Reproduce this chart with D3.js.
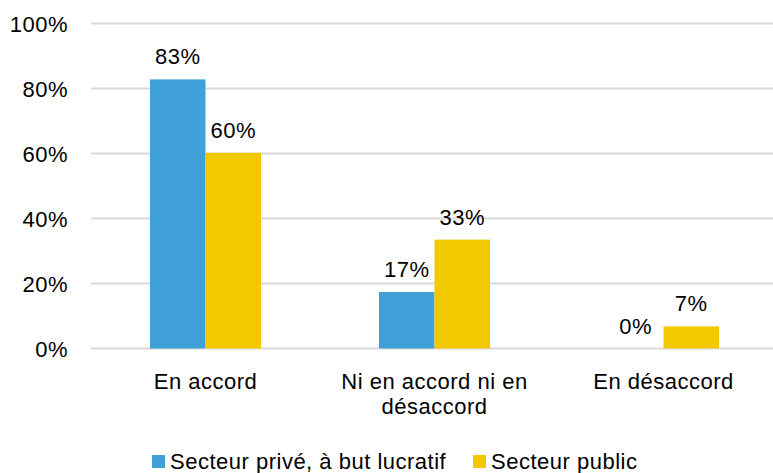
<!DOCTYPE html>
<html>
<head>
<meta charset="utf-8">
<script src="https://cdn.jsdelivr.net/npm/d3@7"></script>
<style>
  body { margin: 0; background: #fff; }
  svg text { font-family: "Liberation Sans", Arial, sans-serif; fill: #000; }
</style>
</head>
<body>
<div id="chart"></div>
<script>
// chart values
const categories = [['En accord'], ['Ni en accord ni en', 'désaccord'], ['En désaccord']];
const seriesNames = ['Secteur privé, à but lucratif', 'Secteur public'];
const prive = [82.8, 17.4, 0];
const publique = [60.2, 33.5, 6.8];
const valueLabels = [['83%', '17%', '0%'], ['60%', '33%', '7%']];
const yTicks = [0, 20, 40, 60, 80, 100];
const colors = ['#40A0D8', '#F2C900'];

const width = 773;
const height = 473;
const fontSize = 22;
const spacing = '0.5px';

const svg = d3.select('#chart')
    .append('svg')
    .attr('width', width)
    .attr('height', height);

const xScale = d3.scaleBand()
    .domain(d3.range(categories.length))
    .range([91, 778]);

const yScale = d3.scaleLinear()
    .domain([0, 100])
    .range([348.5, 23.5]);

const barW = 55.5;

// gridlines
svg.append('g')
    .selectAll('line')
    .data(yTicks)
    .enter()
    .append('line')
        .attr('x1', 91)
        .attr('x2', 778)
        .attr('y1', d => yScale(d))
        .attr('y2', d => yScale(d))
        .attr('stroke', '#d9d9d9')
        .attr('stroke-width', 2);

// y tick labels
svg.append('g')
    .selectAll('text')
    .data(yTicks)
    .enter()
    .append('text')
        .attr('x', 68)
        .attr('y', d => yScale(d) + 8)
        .attr('text-anchor', 'end')
        .style('font-size', fontSize + 'px')
        .style('letter-spacing', spacing)
        .text(d => d + '%');

// bars, one group per series
const series = [prive, publique];
series.forEach((vals, s) => {
    const xOff = s === 0 ? -barW : 0;
    svg.append('g')
        .selectAll('rect')
        .data(vals)
        .enter()
        .append('rect')
            .attr('x', (d, i) => xScale(i) + xScale.bandwidth() / 2 + xOff)
            .attr('y', d => yScale(d))
            .attr('width', barW)
            .attr('height', d => yScale(0) - yScale(d))
            .attr('fill', colors[s]);

    svg.append('g')
        .selectAll('text')
        .data(vals)
        .enter()
        .append('text')
            .attr('x', (d, i) => xScale(i) + xScale.bandwidth() / 2 + xOff + barW / 2)
            .attr('y', d => yScale(d) - 15)
            .attr('text-anchor', 'middle')
            .style('font-size', fontSize + 'px')
            .style('letter-spacing', spacing)
            .text((d, i) => valueLabels[s][i]);
});

// category labels
const catG = svg.append('g')
    .selectAll('text')
    .data(categories)
    .enter()
    .append('text')
        .attr('x', (d, i) => xScale(i) + xScale.bandwidth() / 2)
        .attr('y', 389)
        .attr('text-anchor', 'middle')
        .style('font-size', fontSize + 'px')
        .style('letter-spacing', spacing);

catG.selectAll('tspan')
    .data(d => d)
    .enter()
    .append('tspan')
        .attr('x', function() { return d3.select(this.parentNode).attr('x'); })
        .attr('dy', (d, i) => i === 0 ? 0 : 25)
        .text(d => d);

// legend
const legendX = [152, 473];
const legend = svg.append('g')
    .selectAll('g')
    .data(seriesNames)
    .enter()
    .append('g')
        .attr('transform', (d, i) => `translate(${legendX[i]}, 455)`);

legend.append('rect')
    .attr('width', 13)
    .attr('height', 13)
    .attr('fill', (d, i) => colors[i]);

legend.append('text')
    .attr('x', 18)
    .attr('y', 14)
    .style('font-size', fontSize + 'px')
    .style('letter-spacing', spacing)
    .text(d => d);
</script>
</body>
</html>
